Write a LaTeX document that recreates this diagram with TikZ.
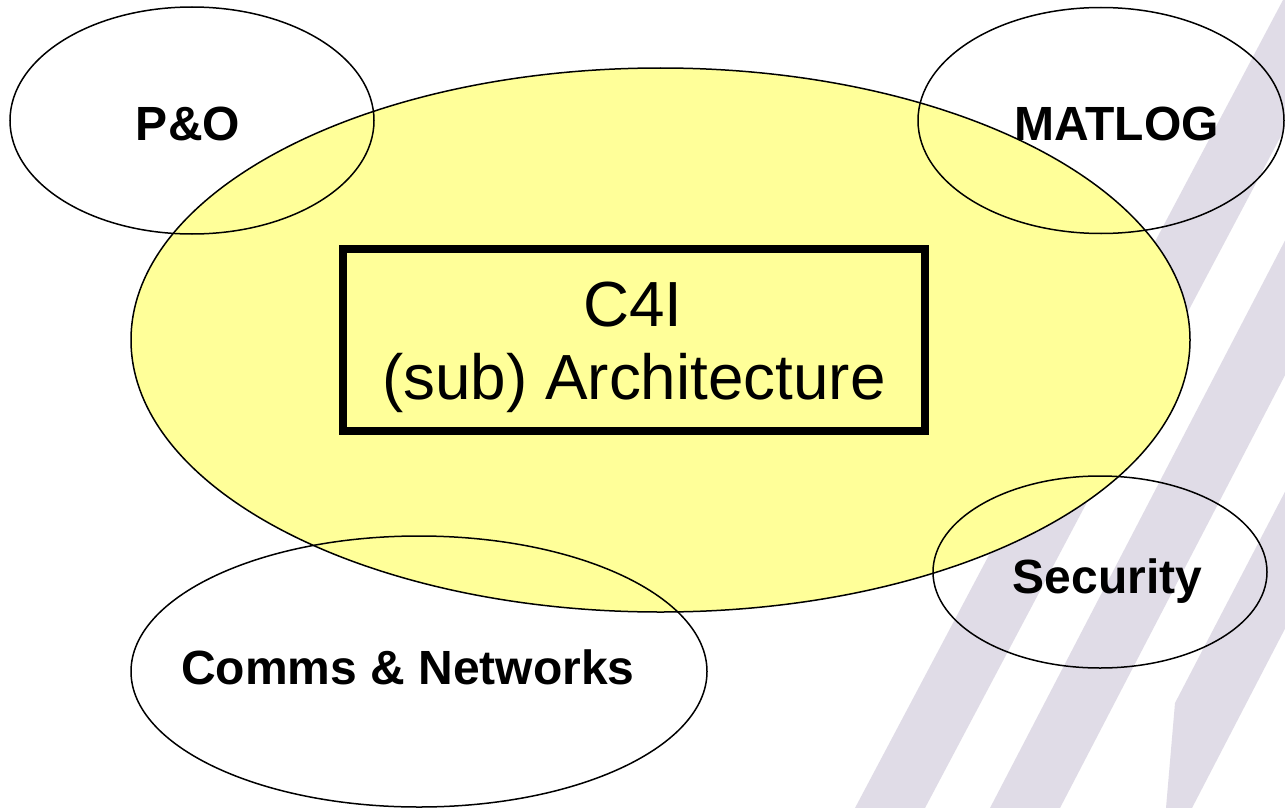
\documentclass[tikz,border=0pt]{standalone}
\usepackage{fontspec}
\setmainfont{Liberation Sans}
\usetikzlibrary{shapes.geometric}
\definecolor{pad}{RGB}{255,255,153}
\definecolor{band}{RGB}{224,220,231}
\tikzset{
  outline/.style={draw=black, line width=1.5pt, ellipse, inner sep=0pt, outer sep=0pt},
  topic/.style={font=\fontsize{48}{56}\selectfont\bfseries, anchor=base, inner sep=0pt},
  title/.style={font=\fontsize{63.8}{72}\selectfont, anchor=base, inner sep=0pt},
  frame/.style={draw=black, line width=8pt, rectangle, inner sep=0pt, outer sep=0pt}
}
\begin{document}
\begin{tikzpicture}[x=1pt,y=-1pt]
  \useasboundingbox (0,0) rectangle (1285,808);
  \fill[white] (0,0) rectangle (1285,808);

  % slanted background bands
  \begin{scope}
    \clip (0,0) rectangle (1285,808);
    \fill[band] (855,808) -- (1283,0) -- (1353,0) -- (925,808) -- cycle;
    \fill[band] (990,808) -- (1410,0) -- (1480,0) -- (1060,808) -- cycle;
    \fill[band] (1166,808) -- (1175,703) -- (1541,0) -- (1611,0) -- (1192,808) -- cycle;
  \end{scope}

  % central area
  \node[outline, fill=pad, minimum width=1059pt, minimum height=544pt] (core) at (660.5,340) {};

  % surrounding areas
  \node[outline, minimum width=364pt, minimum height=227pt] (po) at (192,120.5) {};
  \node[outline, minimum width=366pt, minimum height=226pt] (matlog) at (1101,120.5) {};
  \node[outline, minimum width=334pt, minimum height=192pt] (sec) at (1100,572) {};
  \node[outline, minimum width=576pt, minimum height=271pt] (comms) at (419,671.5) {};

  % architecture box
  \node[frame, minimum width=582.8pt, minimum height=181.5pt] (box) at (633.9,339.75) {};
  \node[title] (c4i) at (633,326) {C4I};
  \node[title] (arch) at (634,399) {(sub) Architecture};

  % labels
  \node[topic] (lpo) at (188,140) {P\&O};
  \node[topic] (lmatlog) at (1116.5,140) {MATLOG};
  \node[topic] (lsec) at (1107.5,593) {Security};
  \node[topic] (lcomms) at (408,684) {Comms \& Networks};
\end{tikzpicture}
\end{document}
